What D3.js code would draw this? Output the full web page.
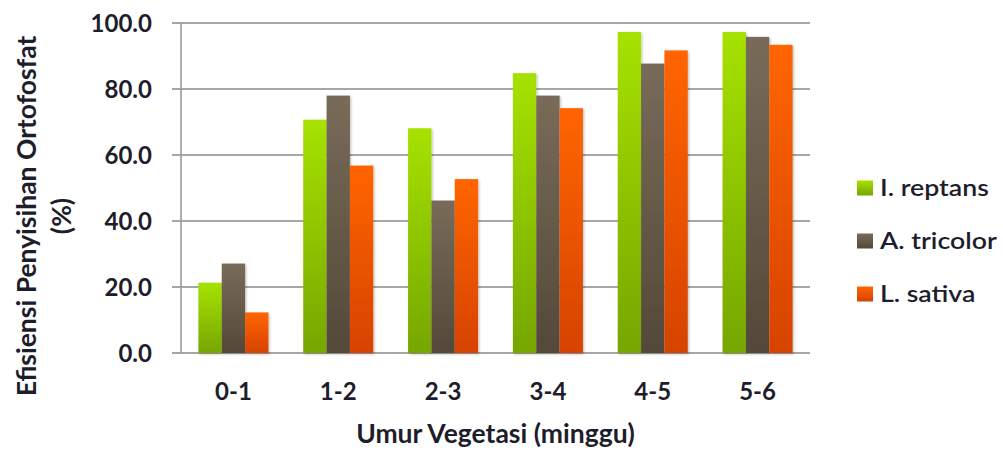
<!DOCTYPE html>
<html>
<head>
<meta charset="utf-8">
<script src="https://cdn.jsdelivr.net/npm/d3@7"></script>
<style>
  html, body { margin: 0; padding: 0; background: #fff; }
  svg { display: block; }
  text { font-family: Lato, "Open Sans", sans-serif; fill: #1d1d2b; }
</style>
</head>
<body>
<svg id="chart" width="1003" height="450"></svg>
<script>
// Weekly vegetation periods
const categories = ["0-1", "1-2", "2-3", "3-4", "4-5", "5-6"];
// Orthophosphate removal efficiency (%) per plant species
const seriesNames = ["I. reptans", "A. tricolor", "L. sativa"];
const reptans  = [21.3, 70.7, 68.1, 84.8, 97.3, 97.3];
const tricolor = [27.1, 78.0, 46.2, 78.0, 87.7, 95.8];
const sativa   = [12.3, 56.8, 52.7, 74.2, 91.7, 93.4];
const yTicks = [0, 20, 40, 60, 80, 100];

const seriesValues = [reptans, tricolor, sativa];
const palette = [
  { top: "#a6e200", bottom: "#76a600" },
  { top: "#786b59", bottom: "#544939" },
  { top: "#ff6500", bottom: "#d64300" }
];

const svg = d3.select("#chart");
const margin = { left: 181, right: 193, top: 23, bottom: 97 };
const width = 1003 - margin.left - margin.right;
const height = 450 - margin.top - margin.bottom;

const defs = svg.append("defs");
palette.forEach((p, i) => {
  const g = defs.append("linearGradient")
    .attr("id", "grad" + i).attr("x1", 0).attr("y1", 0).attr("x2", 0).attr("y2", 1);
  g.append("stop").attr("offset", "0%").attr("stop-color", p.top);
  g.append("stop").attr("offset", "100%").attr("stop-color", p.bottom);
});
const shadow = defs.append("filter").attr("id", "shadow")
  .attr("x", "-20%").attr("y", "-20%").attr("width", "140%").attr("height", "140%");
shadow.append("feDropShadow").attr("dx", 1.2).attr("dy", 1.2)
  .attr("stdDeviation", 1.2).attr("flood-color", "#000").attr("flood-opacity", 0.25);
const soft = defs.append("filter").attr("id", "soft");
soft.append("feGaussianBlur").attr("stdDeviation", 0.5);

const g = svg.append("g").attr("transform", `translate(${margin.left},${margin.top})`);

const x0 = d3.scaleBand().domain(categories).range([0, width])
  .paddingInner(0.332).paddingOuter(0.166);
const x1 = d3.scaleBand().domain(d3.range(seriesNames.length)).range([0, x0.bandwidth()]);
const y = d3.scaleLinear().domain([0, 100]).range([height, 0]);

// Horizontal gridlines with tick stubs to the left of the axis
const grid = g.append("g").attr("filter", "url(#soft)");
grid.selectAll("line").data(yTicks).join("line")
  .attr("x1", -9).attr("x2", width)
  .attr("y1", d => y(d)).attr("y2", d => y(d))
  .attr("stroke", "#8a8a8a").attr("stroke-width", 1.7);
grid.append("line")
  .attr("x1", 0).attr("x2", 0).attr("y1", y(100)).attr("y2", y(0))
  .attr("stroke", "#9a9a9a").attr("stroke-width", 1.6);

// Y axis tick labels
const yAxis = d3.axisLeft(y).tickValues(yTicks).tickFormat(d3.format(".1f")).tickSize(0).tickPadding(29);
const ya = g.append("g").call(yAxis);
ya.select(".domain").remove();
ya.selectAll("text").attr("font-size", 24).attr("font-weight", 700)
  .attr("font-family", "Lato, sans-serif").attr("fill", "#1d1d2b").attr("dy", "0.36em");

// X axis category labels
const xAxis = d3.axisBottom(x0).tickSize(0).tickPadding(30);
const xa = g.append("g").attr("transform", `translate(0,${height})`).call(xAxis);
xa.select(".domain").remove();
xa.selectAll("text").attr("font-size", 24).attr("font-weight", 700)
  .attr("font-family", "Lato, sans-serif").attr("fill", "#1d1d2b");

// Grouped bars
const groups = g.append("g").selectAll("g").data(categories).join("g")
  .attr("transform", d => `translate(${x0(d)},0)`);
groups.selectAll("rect")
  .data((c, ci) => seriesValues.map((vals, si) => ({ si, v: vals[ci] })))
  .join("rect")
  .attr("x", d => x1(d.si))
  .attr("width", x1.bandwidth())
  .attr("y", d => y(d.v))
  .attr("height", d => y(0) - y(d.v))
  .attr("fill", d => `url(#grad${d.si})`)
  .attr("filter", "url(#shadow)");

// Axis titles
g.append("text")
  .attr("x", width / 2).attr("y", height + 90)
  .attr("text-anchor", "middle").attr("font-size", 26.5).attr("font-weight", 700)
  .text("Umur Vegetasi (minggu)");

const yTitle = svg.append("text")
  .attr("transform", "translate(0,216) rotate(-90)")
  .attr("text-anchor", "middle").attr("font-size", 26.5).attr("font-weight", 700);
yTitle.append("tspan").attr("x", 0).attr("y", 35.5).text("Efisiensi Penyisihan Ortofosfat");
yTitle.append("tspan").attr("x", 0).attr("y", 71).text("(%)");

// Legend
const legend = svg.append("g").attr("transform", "translate(857,188)");
const items = legend.selectAll("g").data(seriesNames).join("g")
  .attr("transform", (d, i) => `translate(0,${i * 53})`);
items.append("rect")
  .attr("x", 0).attr("y", -7.5).attr("width", 16).attr("height", 15)
  .attr("fill", (d, i) => `url(#grad${i})`);
items.append("text")
  .attr("transform", "translate(23,0) scale(1.16,1)")
  .attr("dy", "0.36em")
  .attr("font-size", 23).attr("font-weight", 600)
  .text(d => d);
</script>
</body>
</html>
